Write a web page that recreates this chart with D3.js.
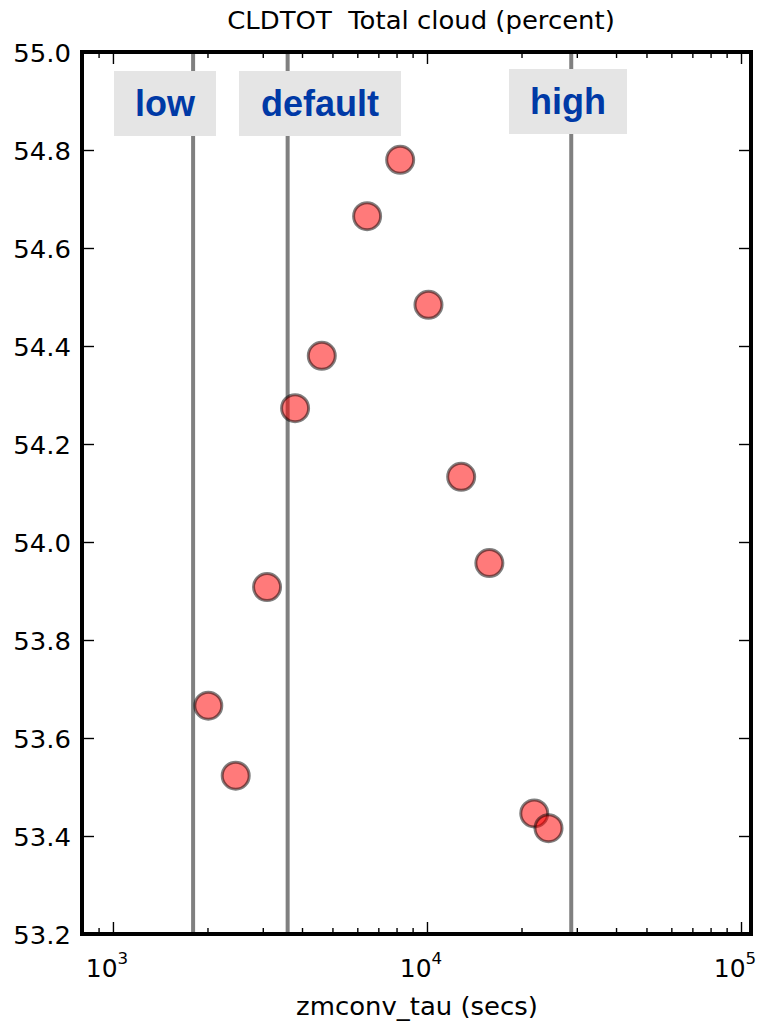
<!DOCTYPE html>
<html>
<head>
<meta charset="utf-8">
<script src="https://cdn.jsdelivr.net/npm/d3@7"></script>
<style>
  html, body { margin: 0; padding: 0; background: #fff; }
  svg { display: block; }
</style>
</head>
<body>
<div id="chart"></div>
<script>
// ---- data ----
const tauValues   = [8216, 6447, 10110, 4624, 3802, 12850, 15800, 3096, 2012, 2460, 21960, 24380];
const cloudValues = [54.780, 54.665, 54.484, 54.380, 54.273, 54.133, 53.957, 53.908, 53.666, 53.523, 53.446, 53.416];
const refNames  = ["low", "default", "high"];
const refValues = [1800, 3600, 28800];
const yTicks = [53.2, 53.4, 53.6, 53.8, 54.0, 54.2, 54.4, 54.6, 54.8, 55.0];
const xMajorExponents = [3, 4, 5];
const xMinorTicks = [900, 2000, 3000, 4000, 5000, 6000, 7000, 8000, 9000,
                     20000, 30000, 40000, 50000, 60000, 70000, 80000, 90000];
const titleText = "CLDTOT  Total cloud (percent)";
const xLabelText = "zmconv_tau (secs)";

// ---- layout ----
const W = 757, H = 1023;
const plot = { left: 82, right: 751, top: 52, bottom: 934 };
const STRETCH = 1.08;

const svg = d3.select("#chart").append("svg")
  .attr("width", W).attr("height", H)
  .style("font-family", "'DejaVu Sans', sans-serif");

svg.append("rect").attr("width", W).attr("height", H).attr("fill", "#fff");

const x = d3.scaleLog().domain([797, 107600]).range([plot.left, plot.right]);
const y = d3.scaleLinear().domain([53.2, 55.0]).range([plot.bottom, plot.top]);

function stretchedText(g, tx, ty, str, size, anchor) {
  return g.append("text")
    .attr("transform", `translate(${tx},${ty}) scale(${STRETCH},1)`)
    .attr("text-anchor", anchor)
    .attr("font-size", size)
    .attr("fill", "#000")
    .text(str);
}

// reference vertical lines
svg.append("g").selectAll("line").data(refValues).join("line")
  .attr("x1", d => x(d)).attr("x2", d => x(d))
  .attr("y1", plot.top).attr("y2", plot.bottom)
  .attr("stroke", "#808080").attr("stroke-width", 4);

// label boxes
const boxSpecs = [
  { w: 102, top: 71, base: 116 },
  { w: 162, top: 71, base: 116 },
  { w: 118, top: 69, base: 114 }
];
const boxCenters = [165, 320, 568];
const lbl = svg.append("g");
refNames.forEach((name, i) => {
  const b = boxSpecs[i];
  const cx = boxCenters[i];
  lbl.append("rect")
    .attr("x", cx - b.w / 2).attr("y", b.top)
    .attr("width", b.w).attr("height", 65)
    .attr("fill", "#e5e5e5");
  lbl.append("text")
    .attr("x", cx).attr("y", b.base)
    .attr("text-anchor", "middle")
    .attr("font-family", "'Liberation Sans', Arial, sans-serif")
    .attr("font-weight", "bold")
    .attr("font-size", 36)
    .attr("fill", "#0039a6")
    .text(name);
});

// points
svg.append("g").selectAll("circle").data(tauValues.map((t, i) => [t, cloudValues[i]]))
  .join("circle")
  .attr("cx", d => x(d[0]))
  .attr("cy", d => y(d[1]))
  .attr("r", 13.5)
  .attr("fill", "rgba(255,0,0,0.52)")
  .attr("stroke", "rgba(0,0,0,0.5)")
  .attr("stroke-width", 3);

// ticks via d3 axes (inward)
const axG = svg.append("g").attr("class", "ticks");
function styleAxis(g) {
  g.select(".domain").remove();
  g.selectAll("text").remove();
  g.selectAll("line").attr("stroke", "#000").attr("stroke-width", 1.4);
}
axG.append("g").attr("transform", `translate(0,${plot.bottom})`)
  .call(d3.axisBottom(x).tickValues(xMajorExponents.map(e => Math.pow(10, e))).tickSize(-12).tickFormat(""))
  .call(styleAxis);
axG.append("g").attr("transform", `translate(0,${plot.bottom})`)
  .call(d3.axisBottom(x).tickValues(xMinorTicks).tickSize(-6).tickFormat(""))
  .call(styleAxis);
axG.append("g").attr("transform", `translate(0,${plot.top})`)
  .call(d3.axisTop(x).tickValues(xMajorExponents.map(e => Math.pow(10, e))).tickSize(-12).tickFormat(""))
  .call(styleAxis);
axG.append("g").attr("transform", `translate(0,${plot.top})`)
  .call(d3.axisTop(x).tickValues(xMinorTicks).tickSize(-6).tickFormat(""))
  .call(styleAxis);
axG.append("g").attr("transform", `translate(${plot.left},0)`)
  .call(d3.axisLeft(y).tickValues(yTicks).tickSize(-12).tickFormat(""))
  .call(styleAxis);
axG.append("g").attr("transform", `translate(${plot.right},0)`)
  .call(d3.axisRight(y).tickValues(yTicks).tickSize(-12).tickFormat(""))
  .call(styleAxis);

// frame
svg.append("rect")
  .attr("x", plot.left).attr("y", plot.top)
  .attr("width", plot.right - plot.left).attr("height", plot.bottom - plot.top)
  .attr("fill", "none").attr("stroke", "#000").attr("stroke-width", 4);

// y tick labels
const yl = svg.append("g");
yTicks.forEach(v => {
  stretchedText(yl, 71, y(v) + 10, d3.format(".1f")(v), 24, "end");
});

// x tick labels with superscripts
const xl = svg.append("g");
xMajorExponents.forEach(e => {
  const px = x(Math.pow(10, e)) - 6;
  const t = xl.append("text")
    .attr("transform", `translate(${px},977) scale(1.04,1)`)
    .attr("text-anchor", "middle")
    .attr("font-size", 24)
    .attr("fill", "#000");
  t.append("tspan").text("10");
  t.append("tspan").attr("font-size", 16).attr("dy", -13).text(String(e));
});

// title and axis label
stretchedText(svg, 421, 29, titleText, 24, "middle").attr("xml:space", "preserve").style("white-space", "pre");
stretchedText(svg, 417, 1015, xLabelText, 24, "middle");
</script>
</body>
</html>
